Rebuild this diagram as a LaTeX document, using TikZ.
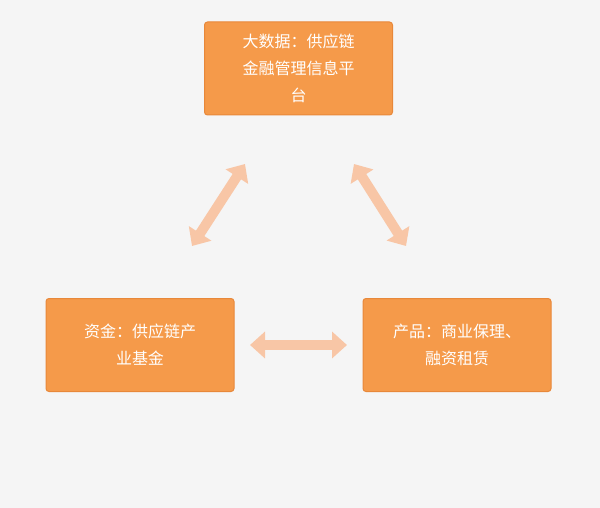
\documentclass[tikz,border=0pt]{standalone}
\usepackage{fontspec}
\newfontfamily\cjk{Noto Sans CJK SC}
\usetikzlibrary{arrows.meta}
\definecolor{boxfill}{HTML}{F59A4A}
\definecolor{boxline}{HTML}{E8883A}
\definecolor{arr}{HTML}{F8C6A6}
\definecolor{bg}{HTML}{F5F5F5}
\tikzset{
  box/.style={draw=boxline, line width=1pt, fill=boxfill, rounded corners=3pt, text=white, align=center, font=\cjk\fontsize{16}{27}\selectfont, minimum width=188pt, minimum height=93pt, inner sep=4pt},
  link/.style={draw=arr, line width=10pt, {Triangle[length=15pt,width=26pt]}-{Triangle[length=15pt,width=26pt]}, shorten <=0pt, shorten >=0pt}
}
\begin{document}
\begin{tikzpicture}[x=1pt,y=-1pt]
\fill[bg] (0,0) rectangle (600,508);
\useasboundingbox (0,0) rectangle (600,508);
\node[box] (top) at (298.5,68.5) {大数据：供应链\\金融管理信息平\\台};
\node[box] (left) at (140,345) {资金：供应链产\\业基金};
\node[box] (right) at (457,345) {产品：商业保理、\\融资租赁};
\coordinate (a1) at (192,246);
\coordinate (a2) at (245,164);
\coordinate (b1) at (354,164);
\coordinate (b2) at (406,246);
\coordinate (c1) at (250,345);
\coordinate (c2) at (347,345);
\draw[link] (a1) -- (a2);
\draw[link] (b1) -- (b2);
\draw[link] (c1) -- (c2);
\end{tikzpicture}
\end{document}
